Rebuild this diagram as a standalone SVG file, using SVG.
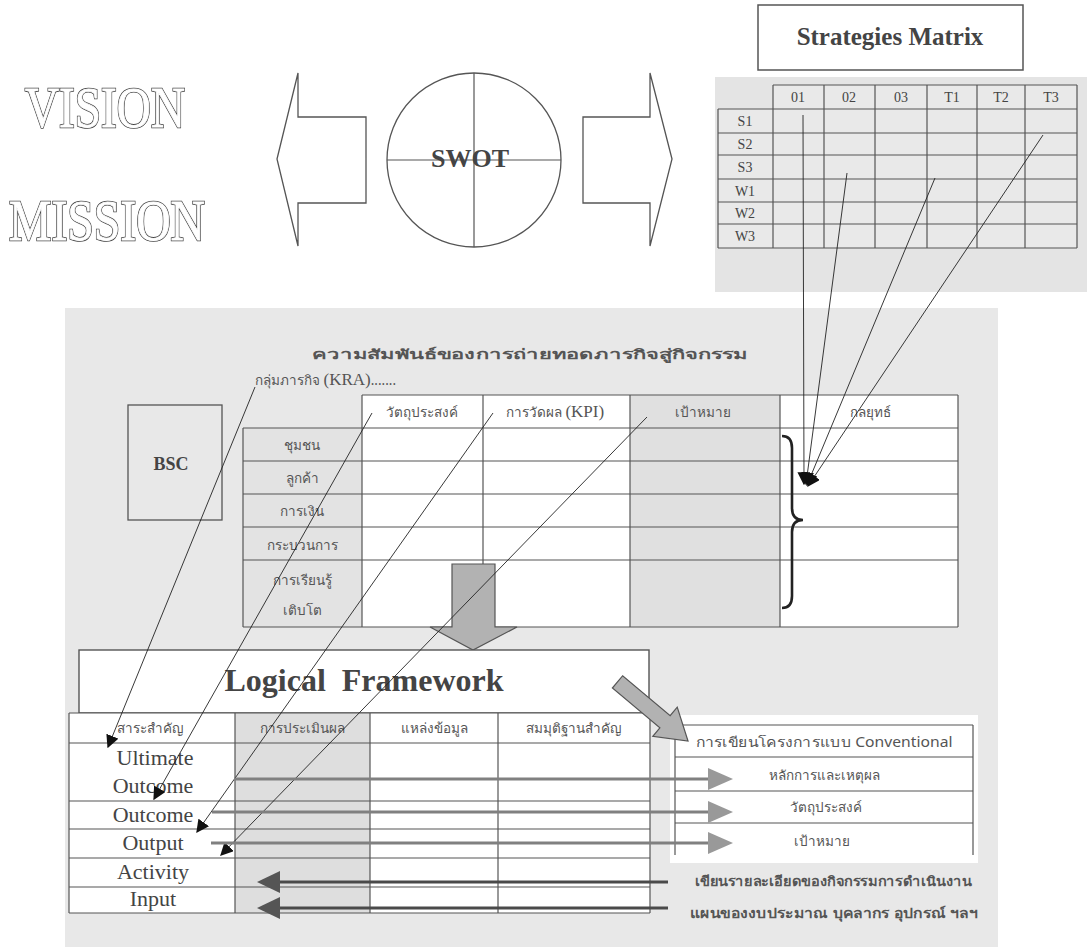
<svg xmlns="http://www.w3.org/2000/svg" width="1087" height="947" viewBox="0 0 1087 947">
<style>
.ln{stroke:#555;stroke-width:1.2;fill:none}
.th{font-family:"Noto Sans","DejaVu Sans",sans-serif;font-size:13.5px;fill:#555;text-anchor:middle}
.sr{font-family:"Liberation Serif",serif;fill:#444;text-anchor:middle}
.thin{stroke:#222;stroke-width:0.9;fill:none}
.garr{fill:#b2b2b2;stroke:#555;stroke-width:1.2}
.gl{stroke:#808080;stroke-width:3;fill:none}
.dl{stroke:#4a4a4a;stroke-width:3;fill:none}
.big{font-family:"Liberation Serif",serif;font-size:56px}
.o1{fill:#fff;stroke:#444;stroke-width:2.4}
.o2{fill:#fff;stroke:#fff;stroke-width:0.8}
</style>
<defs>
<marker id="ah" viewBox="0 0 10 10" refX="9" refY="5" markerWidth="13" markerHeight="13" markerUnits="userSpaceOnUse" orient="auto">
<path d="M0,0 L10,5 L0,10 z" fill="#111"/>
</marker>
</defs>
<rect width="1087" height="947" fill="#fff"/>

<g id="vision">
<text x="25" y="127" class="big o1" textLength="160" lengthAdjust="spacingAndGlyphs">VISION</text>
<text x="25" y="127" class="big o2" textLength="160" lengthAdjust="spacingAndGlyphs">VISION</text>
</g>
<g id="mission">
<text x="9" y="240" class="big o1" textLength="196" lengthAdjust="spacingAndGlyphs">MISSION</text>
<text x="9" y="240" class="big o2" textLength="196" lengthAdjust="spacingAndGlyphs">MISSION</text>
</g>

<g id="left-arrow"><polygon points="277,159 298,73 298,117 366,117 366,203 298,203 298,246" fill="#fff" stroke="#555" stroke-width="1.3"/></g>
<g id="swot">
<circle cx="474" cy="160" r="87" fill="#fff" stroke="#555" stroke-width="1.3"/>
<line x1="387" y1="160" x2="561" y2="160" class="ln"/>
<line x1="474" y1="73" x2="474" y2="247" class="ln"/>
<text x="470" y="167" class="sr" font-size="26" font-weight="bold" fill="#555">SWOT</text>
</g>
<g id="right-arrow"><polygon points="672,159 650,73 650,117 583,117 583,203 650,203 650,246" fill="#fff" stroke="#555" stroke-width="1.3"/></g>

<g id="strategies-matrix-title">
<rect x="758" y="5" width="265" height="65" fill="#fff" stroke="#555" stroke-width="1.5"/>
<text x="890" y="45" class="sr" font-size="25" font-weight="bold" fill="#333">Strategies Matrix</text>
</g>

<g id="strategies-matrix">
<rect x="715" y="77" width="372" height="215" fill="#e4e4e4"/>
<rect x="718" y="85" width="359" height="163" fill="#e9e9e9"/>
<rect x="718" y="85" width="55" height="24" fill="#e4e4e4"/>
<g class="ln">
<line x1="773" y1="85" x2="1077" y2="85"/>
<line x1="718" y1="109" x2="1077" y2="109"/>
<line x1="718" y1="133" x2="1077" y2="133"/>
<line x1="718" y1="155" x2="1077" y2="155"/>
<line x1="718" y1="179" x2="1077" y2="179"/>
<line x1="718" y1="202" x2="1077" y2="202"/>
<line x1="718" y1="224" x2="1077" y2="224"/>
<line x1="718" y1="248" x2="1077" y2="248"/>
<line x1="718" y1="109" x2="718" y2="248"/>
<line x1="773" y1="85" x2="773" y2="248"/>
<line x1="824" y1="85" x2="824" y2="248"/>
<line x1="875" y1="85" x2="875" y2="248"/>
<line x1="927" y1="85" x2="927" y2="248"/>
<line x1="977" y1="85" x2="977" y2="248"/>
<line x1="1025" y1="85" x2="1025" y2="248"/>
<line x1="1077" y1="85" x2="1077" y2="248"/>
</g>
<g class="sr" font-size="14" fill="#666">
<text x="798" y="102">01</text><text x="849" y="102">02</text><text x="901" y="102">03</text>
<text x="952" y="102">T1</text><text x="1001" y="102">T2</text><text x="1051" y="102">T3</text>
<text x="745" y="126">S1</text><text x="745" y="149">S2</text><text x="745" y="172">S3</text>
<text x="745" y="196">W1</text><text x="745" y="218">W2</text><text x="745" y="241">W3</text>
</g>
</g>

<g id="main-panel">
<rect x="65" y="308" width="933" height="639" fill="#e8e8e8"/>
<text x="530" y="359" class="th" font-size="32" font-weight="600" fill="#333" textLength="436" lengthAdjust="spacingAndGlyphs">ความสัมพันธ์ของการถ่ายทอดภารกิจสู่กิจกรรม</text>
<text x="255" y="385" class="th" style="text-anchor:start" font-size="12">กลุ่มภารกิจ <tspan font-family="Liberation Serif,serif" font-size="17">(KRA)</tspan>.......</text>
</g>

<g id="bsc">
<rect x="128" y="405" width="94" height="115" fill="#e8e8e8" stroke="#555" stroke-width="1.3"/>
<text x="171" y="470" class="sr" font-size="18" font-weight="bold" fill="#333">BSC</text>
</g>

<g id="bsc-table">
<rect x="362" y="395" width="268" height="232" fill="#fff"/>
<rect x="780" y="395" width="178" height="232" fill="#fff"/>
<rect x="630" y="395" width="150" height="232" fill="#e0e0e0"/>
<rect x="243" y="428" width="119" height="199" fill="#e3e3e3"/>
<g class="ln">
<line x1="362" y1="395" x2="958" y2="395"/>
<line x1="243" y1="428" x2="958" y2="428"/>
<line x1="243" y1="461" x2="958" y2="461"/>
<line x1="243" y1="494" x2="958" y2="494"/>
<line x1="243" y1="527" x2="958" y2="527"/>
<line x1="243" y1="560" x2="958" y2="560"/>
<line x1="243" y1="627" x2="958" y2="627"/>
<line x1="243" y1="428" x2="243" y2="627"/>
<line x1="362" y1="395" x2="362" y2="627"/>
<line x1="483" y1="395" x2="483" y2="627"/>
<line x1="630" y1="395" x2="630" y2="627"/>
<line x1="780" y1="395" x2="780" y2="627"/>
<line x1="958" y1="395" x2="958" y2="627"/>
</g>
<text x="422" y="417" class="th">วัตถุประสงค์</text>
<text x="555" y="417" class="th">การวัดผล <tspan font-family="Liberation Serif,serif" font-size="17">(KPI)</tspan></text>
<text x="703" y="417" class="th">เป้าหมาย</text>
<text x="870" y="417" class="th">กลยุทธ์</text>
<text x="302" y="450" class="th">ชุมชน</text>
<text x="302" y="483" class="th">ลูกค้า</text>
<text x="302" y="516" class="th">การเงิน</text>
<text x="302" y="550" class="th">กระบวนการ</text>
<text x="302" y="585" class="th">การเรียนรู้</text>
<text x="302" y="615" class="th">เติบโต</text>
<path d="M782,436 Q792,436 792,448 L792,508 Q792,520 803,520 Q792,520 792,532 L792,596 Q792,608 782,608" fill="none" stroke="#222" stroke-width="2.6"/>
</g>

<g id="down-arrow"><polygon points="452,564 495,564 495,627 517,627 473,650 430,627 452,627" class="garr"/></g>

<g id="logical-framework-title">
<rect x="79" y="650" width="570" height="63" fill="#fff" stroke="#555" stroke-width="1.4"/>
<text x="364" y="691" class="sr" font-size="32" font-weight="bold" fill="#333" xml:space="preserve">Logical  Framework</text>
</g>

<g id="logframe-table">
<rect x="69" y="713" width="581" height="200" fill="#fff"/>
<rect x="235" y="713" width="135" height="200" fill="#dedede"/>
<g class="ln">
<line x1="69" y1="713" x2="650" y2="713"/>
<line x1="69" y1="743" x2="650" y2="743"/>
<line x1="235" y1="779" x2="650" y2="779"/>
<line x1="69" y1="801" x2="650" y2="801"/>
<line x1="69" y1="829" x2="650" y2="829"/>
<line x1="69" y1="858" x2="650" y2="858"/>
<line x1="69" y1="887" x2="650" y2="887"/>
<line x1="69" y1="913" x2="650" y2="913"/>
<line x1="69" y1="713" x2="69" y2="913"/>
<line x1="235" y1="713" x2="235" y2="913"/>
<line x1="370" y1="713" x2="370" y2="913"/>
<line x1="498" y1="713" x2="498" y2="913"/>
<line x1="650" y1="713" x2="650" y2="913"/>
</g>
<text x="150" y="733" class="th">สาระสำคัญ</text>
<text x="302" y="733" class="th">การประเมินผล</text>
<text x="434" y="733" class="th">แหล่งข้อมูล</text>
<text x="574" y="733" class="th">สมมุติฐานสำคัญ</text>
<g class="sr" font-size="22" fill="#3a3a3a">
<text x="155" y="765">Ultimate</text>
<text x="153" y="793">Outcome</text>
<text x="153" y="822">Outcome</text>
<text x="153" y="850">Output</text>
<text x="153" y="879">Activity</text>
<text x="153" y="906">Input</text>
</g>
</g>

<g id="conventional-table">
<rect x="670" y="715" width="308" height="148" fill="#fff"/>
<g class="ln">
<line x1="675" y1="725" x2="973" y2="725"/>
<line x1="675" y1="757" x2="973" y2="757"/>
<line x1="675" y1="791" x2="973" y2="791"/>
<line x1="675" y1="823" x2="973" y2="823"/>
<line x1="675" y1="725" x2="675" y2="855"/>
<line x1="973" y1="725" x2="973" y2="855"/>
</g>
<text x="824" y="747" class="th" font-size="14" textLength="257" lengthAdjust="spacingAndGlyphs">การเขียนโครงการแบบ Conventional</text>
<text x="824" y="780" class="th">หลักการและเหตุผล</text>
<text x="826" y="812" class="th">วัตถุประสงค์</text>
<text x="822" y="846" class="th">เป้าหมาย</text>
<text x="833" y="886" class="th" font-size="14" font-weight="bold" fill="#333" textLength="277" lengthAdjust="spacingAndGlyphs">เขียนรายละเอียดของกิจกรรมการดำเนินงาน</text>
<text x="834" y="918" class="th" font-size="14" font-weight="bold" fill="#333" textLength="288" lengthAdjust="spacingAndGlyphs">แผนของงบประมาณ บุคลากร อุปกรณ์ ฯลฯ</text>
</g>

<g id="diag-arrow"><polygon transform="translate(688,741) rotate(40)" points="0,0 -30,-19 -30,-8 -92,-8 -92,8 -30,8 -30,19" class="garr"/></g>

<g id="connectors">
<line x1="803" y1="115" x2="804" y2="484" class="thin" marker-end="url(#ah)"/>
<line x1="847" y1="173" x2="806" y2="484" class="thin" marker-end="url(#ah)"/>
<line x1="935" y1="178" x2="807" y2="485" class="thin" marker-end="url(#ah)"/>
<line x1="1043" y1="135" x2="808" y2="486" class="thin" marker-end="url(#ah)"/>
<line x1="255" y1="387" x2="108" y2="747" class="thin" marker-end="url(#ah)"/>
<line x1="372" y1="413" x2="154" y2="799" class="thin" marker-end="url(#ah)"/>
<line x1="493" y1="413" x2="197" y2="832" class="thin" marker-end="url(#ah)"/>
<line x1="647" y1="417" x2="221" y2="855" class="thin" marker-end="url(#ah)"/>
<line x1="234" y1="779" x2="710" y2="779" class="gl"/>
<polygon points="708,768 733,779 708,790" fill="#999"/>
<line x1="212" y1="812" x2="710" y2="812" class="gl"/>
<polygon points="708,801 733,812 708,823" fill="#999"/>
<line x1="211" y1="843" x2="710" y2="843" class="gl"/>
<polygon points="708,832 733,843 708,854" fill="#999"/>
<line x1="668" y1="882" x2="275" y2="882" class="dl"/>
<polygon points="257,882 280,871 280,893" fill="#555"/>
<line x1="668" y1="908" x2="275" y2="908" class="dl"/>
<polygon points="257,908 280,897 280,919" fill="#555"/>
</g>
</svg>
